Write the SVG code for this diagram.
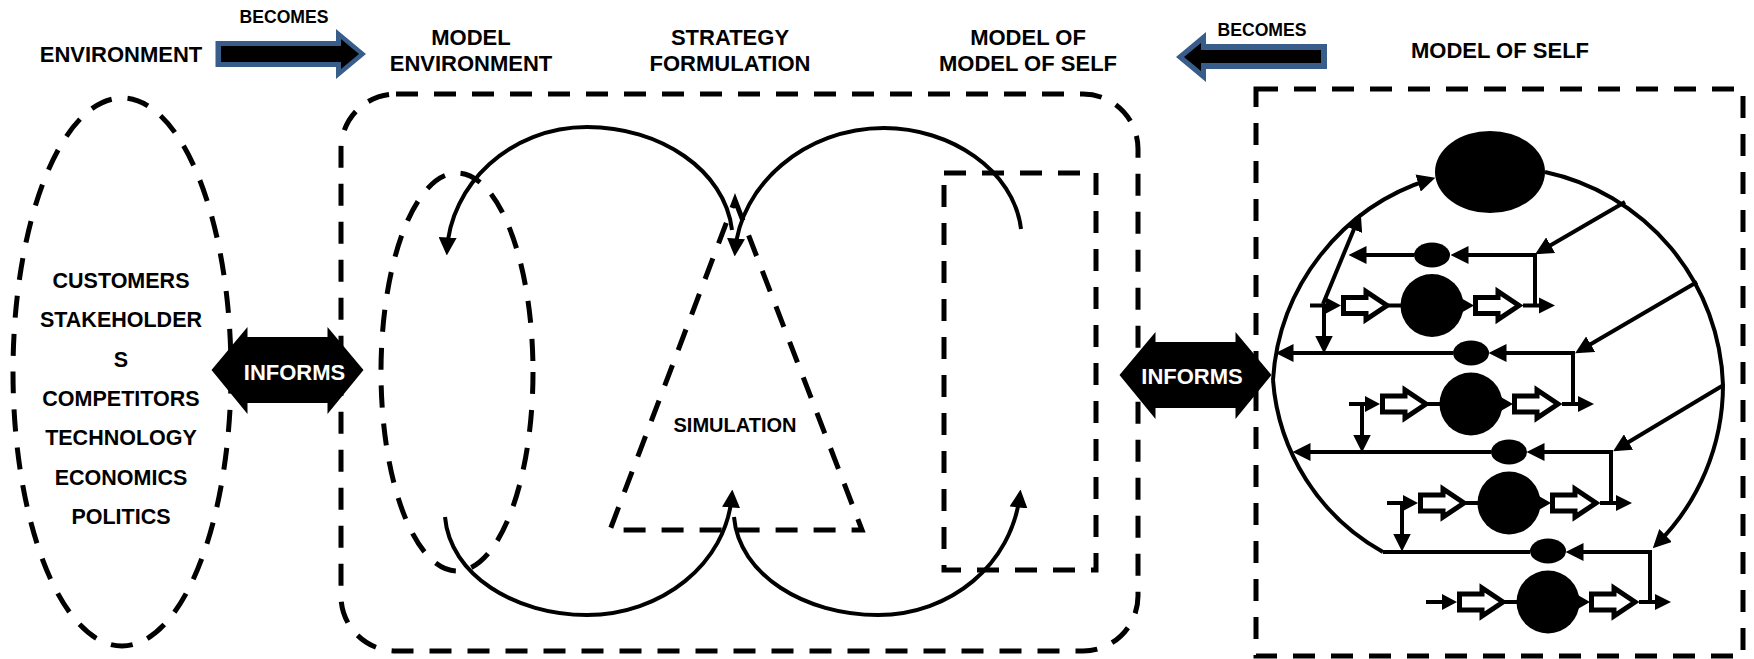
<svg xmlns="http://www.w3.org/2000/svg" xmlns:xlink="http://www.w3.org/1999/xlink" width="1754" height="659" viewBox="0 0 1754 659">
<style>
text{font-family:"Liberation Sans",Arial,sans-serif;font-weight:bold;fill:#000;text-anchor:middle}
.h{font-size:22px}.b{font-size:17.6px}.l{font-size:21.5px}.w{font-size:22px;fill:#fff}
.d{fill:none;stroke:#000;stroke-width:5;stroke-dasharray:22 16}
.c{fill:none;stroke:#000;stroke-width:4}
.a{fill:none;stroke:#000;stroke-width:4;marker-end:url(#ah)}
.big{fill:#385d8a}
.blk{fill:#000}
.hol{fill:#fff;stroke:#000;stroke-width:5}
</style>
<defs>
<marker id="ah" markerUnits="userSpaceOnUse" markerWidth="18" markerHeight="18" refX="12" refY="8" orient="auto" viewBox="0 0 16 16"><path d="M0 0L16 8L0 16Z" fill="#000"/></marker>
<g id="module">
<path class="c" d="M-122 0H-105M-46 0H-30M91 0H108"/>
<path class="blk" d="M-106 -8L-91 0L-106 8ZM28 -8L42 0L28 8ZM107 -8L123 0L107 8Z"/>
<polygon class="hol" points="-88.5,-8 -66,-8 -66,-14 -45,0 -66,14 -66,8 -88.5,8"/>
<polygon class="hol" points="43.5,-8 66,-8 66,-14 87,0 66,14 66,8 43.5,8"/>
<circle r="31.5" class="blk"/>
</g>
<polygon id="informs" points="-76,0 -40,-43 -40,-33 40,-33 40,-43 76,0 40,44 40,33 -40,33 -40,44" class="blk"/>
</defs>

<g id="environment-ellipse"><ellipse class="d" cx="122" cy="372" rx="109" ry="274"/>
<text class="l" x="121" y="288">CUSTOMERS</text>
<text class="l" x="121" y="327">STAKEHOLDER</text>
<text class="l" x="121" y="367">S</text>
<text class="l" x="121" y="406">COMPETITORS</text>
<text class="l" x="121" y="445">TECHNOLOGY</text>
<text class="l" x="121" y="485">ECONOMICS</text>
<text class="l" x="121" y="524">POLITICS</text>
</g>
<g id="model-frame"><rect class="d" x="341" y="94" width="797" height="557" rx="55" ry="55"/></g>
<g id="model-environment-ellipse"><ellipse class="d" cx="457" cy="372" rx="76" ry="199"/></g>
<g id="simulation-triangle"><path class="d" d="M735 200L862 530H610Z"/><text class="l" x="735" y="432" style="font-size:20px">SIMULATION</text></g>
<g id="model-of-self-box"><rect class="d" x="944" y="173" width="152" height="397"/></g>
<g id="self-frame"><rect class="d" x="1256" y="89" width="487" height="567"/></g>

<g id="connectors">
<path class="a" d="M732 230C725 170 660 127 587 127C510 127 450 185 447 251"/>
<path class="a" d="M1021 229C1014 170 950 128 884 128C805 128 740 185 735 252"/>
<path class="a" d="M445 517C450 575 515 615 587 615C660 615 727 565 732 494"/>
<path class="a" d="M734 517C739 575 805 615 878 615C950 615 1012 565 1020 494"/>
<path class="c" d="M1383 552A215 215 0 0 1 1273 380"/>
<path class="a" d="M1273 380A225 225 0 0 1 1431 179"/>
<path class="c" d="M1545 172A225 225 0 0 1 1723 385"/>
<path class="a" d="M1723 385A225 225 0 0 1 1656 545"/>
<path class="a" d="M1625 202L1539 252"/>
<path class="a" d="M1697 282L1579 351"/>
<path class="a" d="M1722 386L1617 449"/>
<path class="a" d="M1323 304L1359 217"/>
<path class="a" d="M1324 306V349"/>
<path class="a" d="M1362 404V448"/>
<path class="a" d="M1402 503V547"/>
<path class="a" d="M1535 306V255H1455"/>
<path class="a" d="M1414 255H1353"/>
<path class="a" d="M1573 404V353H1493"/>
<path class="a" d="M1453 353H1280"/>
<path class="a" d="M1611 503V452H1531"/>
<path class="a" d="M1491 452H1297"/>
<path class="a" d="M1650 602V552H1570"/>
<path class="c" d="M1530 552H1383"/>
</g>

<g id="policy"><ellipse class="blk" cx="1490" cy="172" rx="55" ry="41"/></g>
<g id="monitor-1"><ellipse class="blk" cx="1432" cy="255" rx="18" ry="12.5"/></g>
<g id="monitor-2"><ellipse class="blk" cx="1471" cy="353" rx="18" ry="12.5"/></g>
<g id="monitor-3"><ellipse class="blk" cx="1509" cy="452" rx="18" ry="12.5"/></g>
<g id="monitor-4"><ellipse class="blk" cx="1548" cy="551" rx="18" ry="12.5"/></g>
<g id="module-1"><use xlink:href="#module" href="#module" transform="translate(1432 305.5)"/></g>
<g id="module-2"><use xlink:href="#module" href="#module" transform="translate(1471 404)"/></g>
<g id="module-3"><use xlink:href="#module" href="#module" transform="translate(1509 503)"/></g>
<g id="module-4"><use xlink:href="#module" href="#module" transform="translate(1548 602)"/></g>

<g id="informs-left"><use xlink:href="#informs" href="#informs" transform="translate(287.5 370)"/><text class="w" x="294.5" y="380">INFORMS</text></g>
<g id="informs-right"><use xlink:href="#informs" href="#informs" transform="translate(1195.5 375)"/><text class="w" x="1192" y="384">INFORMS</text></g>

<g id="becomes-left">
<polygon points="215.5,41 336,41 336,29 366,54 336,79 336,67 215.5,67" class="big"/>
<polygon points="221,46 341,46 341,39 359,54 341,69 341,62 221,62" class="blk"/>
<text class="b" x="284" y="23">BECOMES</text></g>
<g id="becomes-right">
<polygon points="1327,44 1206,44 1206,32 1176,57 1206,82 1206,69 1327,69" class="big"/>
<polygon points="1321,50 1201,50 1201,43 1184,57 1201,71 1201,63 1321,63" class="blk"/>
<text class="b" x="1262" y="36">BECOMES</text></g>

<g id="titles">
<text class="h" x="121" y="62">ENVIRONMENT</text>
<text class="h" x="471" y="45">MODEL</text><text class="h" x="471" y="71">ENVIRONMENT</text>
<text class="h" x="730" y="45">STRATEGY</text><text class="h" x="730" y="71">FORMULATION</text>
<text class="h" x="1028" y="45">MODEL OF</text><text class="h" x="1028" y="71">MODEL OF SELF</text>
<text class="h" x="1500" y="58">MODEL OF SELF</text>
</g>
</svg>
